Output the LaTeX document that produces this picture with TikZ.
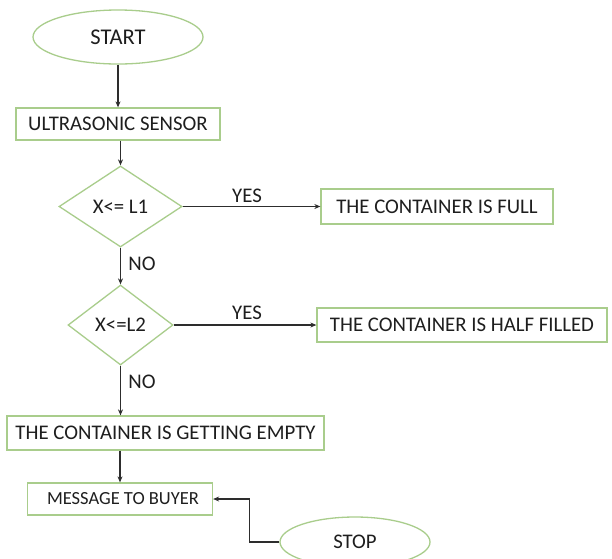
\documentclass[tikz,border=0pt]{standalone}
\usepackage{fontspec}
\setmainfont{Carlito}
\usetikzlibrary{shapes.geometric,arrows.meta}
\definecolor{gborder}{RGB}{169,205,140}
\definecolor{ink}{RGB}{30,30,30}
\definecolor{conn}{RGB}{45,45,45}
\begin{document}
\begin{tikzpicture}[x=1pt,y=-1pt,
  every node/.style={font=\fontsize{20.8}{24}\selectfont, text=ink},
  term/.style={ellipse, draw=gborder, line width=1.3pt, inner sep=0pt},
  procbox/.style={rectangle, draw=gborder, line width=1.3pt, inner sep=0pt},
  decision/.style={diamond, draw=gborder, line width=1.3pt, inner sep=0pt},
  flow/.style={draw=conn, line width=1.2pt, -{Stealth[length=6pt,width=5pt]}},
  lbl/.style={inner sep=0pt}]
\useasboundingbox (0,0) rectangle (612,558);
\fill[white] (0,0) rectangle (612,558);

\node[term, minimum width=170pt, minimum height=54pt, font=\fontsize{22.5}{26}\selectfont] (start) at (118,37) {START};
\node[procbox, minimum width=204pt, minimum height=32pt] (sensor) at (118,124) {ULTRASONIC SENSOR\hspace{20pt}};
\node[decision, minimum width=123pt, minimum height=81pt] (d1) at (120.5,206.5) {X<= L1};
\node[procbox, minimum width=232pt, minimum height=35pt] (full) at (437,206.5) {THE CONTAINER IS FULL\hspace{32pt}};
\node[decision, minimum width=105pt, minimum height=80pt] (d2) at (120.5,325) {X<=L2};
\node[procbox, minimum width=290pt, minimum height=34pt] (half) at (462,325) {THE CONTAINER IS HALF FILLED\hspace{18pt}};
\node[procbox, minimum width=317pt, minimum height=34pt] (empty) at (165.5,433) {THE CONTAINER IS GETTING EMPTY};
\node[procbox, minimum width=185pt, minimum height=32pt, font=\fontsize{18.5}{22}\selectfont] (msg) at (120,499) {\hspace{6pt}MESSAGE TO BUYER};
\node[term, minimum width=150pt, minimum height=50pt] (stop) at (355,542) {STOP};

\node[lbl] (yes1) at (247,196) {YES};
\node[lbl] (yes2) at (247,313) {YES};
\node[lbl] (no1) at (142,264) {NO};
\node[lbl] (no2) at (142,382) {NO};

\draw[flow] (start.south) -- (start.south |- sensor.north);
\draw[flow] (d1.north |- sensor.south) -- (d1.north);
\draw[flow] (d1.east) -- (full.west);
\draw[flow] (d1.south) -- (d2.north);
\draw[flow] (d2.east) -- (half.west);
\draw[flow] (d2.south) -- (d2.south |- empty.north);
\draw[flow] (msg.north |- empty.south) -- (msg.north);
\draw[flow] (stop.west) -- ++(-30,0) |- (msg.east);
\end{tikzpicture}
\end{document}
